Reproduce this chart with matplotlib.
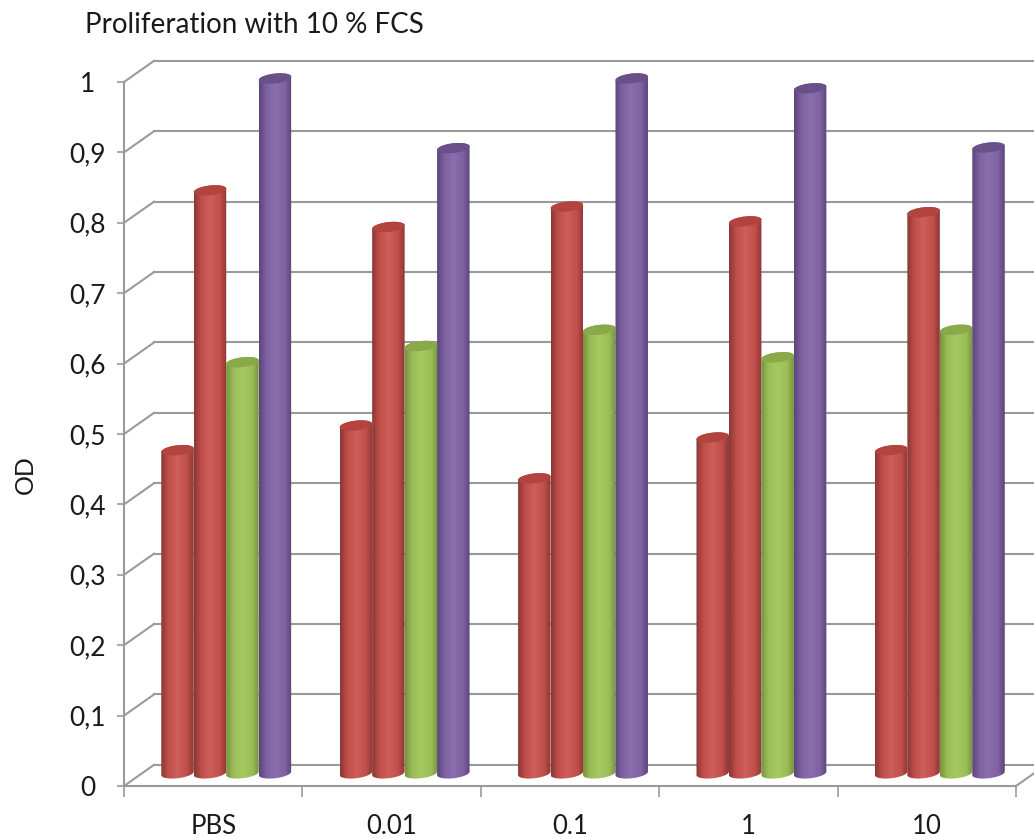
"""Proliferation with 10 % FCS: 3D-look cylinder chart drawn on a plain 2D axes."""

import numpy as np
import matplotlib
matplotlib.use("Agg")
import matplotlib.pyplot as plt
from matplotlib.colors import LinearSegmentedColormap
from matplotlib.patches import Polygon

categories = ["PBS", "0.01", "0.1", "1", "10"]
series_a = [0.459, 0.494, 0.419, 0.477, 0.459]
series_b = [0.828, 0.776, 0.805, 0.784, 0.797]
series_c = [0.584, 0.607, 0.630, 0.591, 0.630]
series_d = [0.987, 0.888, 0.987, 0.973, 0.889]
y_ticks = [0, 0.1, 0.2, 0.3, 0.4, 0.5, 0.6, 0.7, 0.8, 0.9, 1]
y_tick_labels = ["0", "0,1", "0,2", "0,3", "0,4", "0,5", "0,6", "0,7", "0,8", "0,9", "1"]

# (edge, body, highlight, cap) for each series
RED = ("#8a3734", "#c04e4a", "#cf5f5b", "#b2433f")
GREEN = ("#76933c", "#9bbd57", "#a6c961", "#8aa948")
PURPLE = ("#5b4579", "#7d61a0", "#8a6eae", "#6a5089")

GRID = "#9a9a9a"
BAR_WIDTH = 0.182
DEPTH_X = 0.168
DEPTH_Y = 0.030
BASE = 0.018
X_SHIFT = -0.011
CAP_H = 0.0070
CAP_TILT = 0.0025


def cap_points(cx, cy, start=0.0, stop=2 * np.pi):
    t = np.linspace(start, stop, 60)
    x = cx + BAR_WIDTH / 2 * np.cos(t)
    y = cy + CAP_H * np.sin(t) + CAP_TILT * np.cos(t)
    return np.column_stack([x, y])


def draw_cylinder(ax, cx, base, value, colors, z):
    edge, body, light, cap = colors
    cmap = LinearSegmentedColormap.from_list(
        "cyl", [(0, edge), (0.22, body), (0.5, light), (0.8, body), (1, edge)]
    )
    # body outline: top half arc over the top, front half arc under the base
    top = cap_points(cx, base + value, 0, np.pi)
    bottom = cap_points(cx, base, np.pi, 2 * np.pi)
    outline = Polygon(np.vstack([top, bottom]), closed=True, fc="none", ec="none",
                      transform=ax.transData)
    ax.add_patch(outline)
    grad = np.linspace(0, 1, 128).reshape(1, -1)
    im = ax.imshow(grad, cmap=cmap, aspect="auto", zorder=z, interpolation="bilinear",
                   extent=(cx - BAR_WIDTH / 2, cx + BAR_WIDTH / 2,
                           base - 2 * CAP_H, base + value + 2 * CAP_H))
    im.set_clip_path(outline)
    ax.add_patch(Polygon(cap_points(cx, base + value), closed=True, fc=cap, ec="none",
                         zorder=z + 0.1))


plt.rcParams["font.family"] = ["Lato", "DejaVu Sans"]

fig = plt.figure(figsize=(10.34, 8.40), dpi=100)
ax = fig.add_axes([124 / 1034, (840 - 786) / 840, 910 / 1034, 731 / 840])

# back wall lines and the diagonals running to them
n = len(categories)
for tick in y_ticks:
    ax.plot([DEPTH_X, 6], [tick + DEPTH_Y, tick + DEPTH_Y], color=GRID, lw=1.5, zorder=1)
    ax.plot([0, DEPTH_X], [tick, tick + DEPTH_Y], color=GRID, lw=1.5, zorder=1)
ax.plot([n, n + DEPTH_X], [0, DEPTH_Y], color=GRID, lw=1.5, zorder=1)

all_series = [series_a, series_b, series_c, series_d]
all_colors = [RED, RED, GREEN, PURPLE]
for i in range(n):
    for j, (values, colors) in enumerate(zip(all_series, all_colors)):
        cx = i + 0.5 + DEPTH_X / 2 + X_SHIFT + (j - 1.5) * BAR_WIDTH
        draw_cylinder(ax, cx, BASE, values[i], colors, 3 + j)

ax.set_xlim(0, 910 / 178.4)
ax.set_ylim(0, 731 / 704)

ax.spines["top"].set_visible(False)
ax.spines["right"].set_visible(False)
for side in ("left", "bottom"):
    ax.spines[side].set_color(GRID)
    ax.spines[side].set_linewidth(1.5)
ax.spines["left"].set_bounds(0, 1)
ax.spines["bottom"].set_bounds(0, n)

ax.set_yticks(y_ticks)
ax.set_yticklabels(y_tick_labels, fontsize=19, color="#1a1a1a", ha="center")
ax.tick_params(axis="y", length=5, width=1.2, color=GRID, pad=21)

ax.set_xticks(range(n + 1))
ax.set_xticklabels([])
ax.set_xticks(np.arange(n) + 0.5, minor=True)
ax.set_xticklabels(categories, minor=True, fontsize=18.5, color="#1a1a1a")
ax.tick_params(axis="x", which="major", length=8, width=1.2, color=GRID)
ax.tick_params(axis="x", which="minor", length=0, pad=20)

fig.text(85 / 1034, 1 - 25 / 840, "Proliferation with 10 % FCS", fontsize=20,
         color="#1a1a1a", va="center", ha="left")
fig.text(25 / 1034, 1 - 475 / 840, "OD", fontsize=18, rotation=90,
         color="#1a1a1a", va="center", ha="center")

fig.savefig("out.png", dpi=100)
